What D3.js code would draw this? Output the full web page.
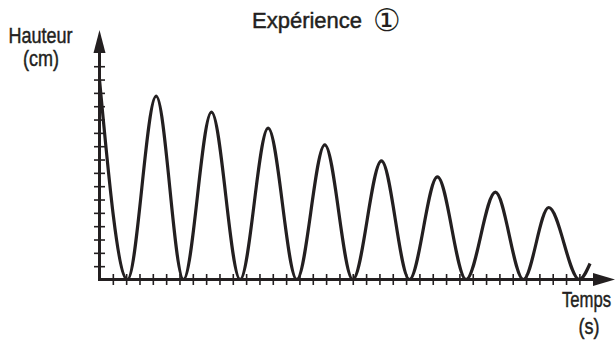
<!DOCTYPE html>
<html>
<head>
<meta charset="utf-8">
<script src="https://cdn.jsdelivr.net/npm/d3@7/dist/d3.min.js"></script>
<style>
  html, body { margin: 0; padding: 0; background: #fff; }
  svg { display: block; }
  text { font-family: "Liberation Sans", Arial, sans-serif; fill: #231f20; stroke: #231f20; stroke-width: 0.45px; }
  tspan.mark { stroke: none; }
</style>
</head>
<body>
<svg id="chart" width="616" height="341"></svg>
<script>
// ---- data ----
const title = "Expérience";
const titleMark = "①";
const yLabel = ["Hauteur", "(cm)"];
const xLabel = ["Temps", "(s)"];
// time of each turning point (tick units)
const times   = [0, 2.1, 4.25, 6.3, 8.4, 10.55, 12.65, 14.8, 16.9, 19.0, 21.15, 23.25, 25.35, 27.5, 29.7, 31.8, 33.7, 36.0, 36.8];
// height at each turning point (tick units)
const heights = [15.0, 0, 13.75, 0, 12.55, 0, 11.35, 0, 10.1, 0, 8.9, 0, 7.7, 0, 6.55, 0, 5.4, 0, 1.2];
const xTicks = d3.range(1, 37);   // 36 minor ticks on time axis
const yTicks = d3.range(1, 17);   // 16 minor ticks on height axis

// ---- layout ----
const svg = d3.select("#chart");
const ink = "#231f20";
const x0 = 99.5, y0 = 279.5, step = 13.33;
const x = d3.scaleLinear().domain([0, 38.5]).range([x0, x0 + 38.5 * step]);
const y = d3.scaleLinear().domain([0, 16]).range([y0, y0 - 16 * step]);

// axes with ticks on both sides
const gx = svg.append("g").attr("transform", `translate(0,${y0})`)
  .call(d3.axisBottom(x).tickValues(xTicks).tickSize(5).tickFormat(""));
gx.select(".domain").remove();
gx.selectAll(".tick line").attr("y1", -5.5).attr("y2", 5.5)
  .attr("stroke", ink).attr("stroke-width", 1.6);

const gy = svg.append("g").attr("transform", `translate(${x0},0)`)
  .call(d3.axisLeft(y).tickValues(yTicks).tickSize(5).tickFormat(""));
gy.select(".domain").remove();
gy.selectAll(".tick line").attr("x1", 5.5).attr("x2", -5.5)
  .attr("stroke", ink).attr("stroke-width", 1.6);

// axis lines with arrows
svg.append("line").attr("x1", x0).attr("x2", 596).attr("y1", y0).attr("y2", y0)
  .attr("stroke", ink).attr("stroke-width", 3);
svg.append("path").attr("d", `M615,${y0} L593,${y0 - 6.5} L593,${y0 + 6.5} Z`).attr("fill", ink);
svg.append("line").attr("x1", x0).attr("x2", x0).attr("y1", y0 + 1.5).attr("y2", 50)
  .attr("stroke", ink).attr("stroke-width", 3);
svg.append("path").attr("d", `M${x0},30 L${x0 - 6},53 L${x0 + 6},53 Z`).attr("fill", ink);

// the curve
const pts = times.map((t, i) => [t, heights[i]]);
const line = d3.line().x(d => x(d[0])).y(d => y(d[1])).curve(d3.curveMonotoneX);
svg.append("path").datum(pts).attr("d", line)
  .attr("fill", "none").attr("stroke", ink).attr("stroke-width", 3.2)
  .attr("stroke-linejoin", "round").attr("stroke-linecap", "butt");

// texts
const t = svg.append("text").attr("x", 252).attr("y", 28).style("font-size", "22px");
t.append("tspan").text(title);
t.append("tspan").attr("class", "mark").attr("x", 373).attr("y", 30.5)
  .style("font-family", "'DejaVu Sans', sans-serif").style("font-size", "31px").text(titleMark);

function label(str, cx, by, sx) {
  svg.append("text").attr("text-anchor", "middle")
    .attr("transform", `translate(${cx},${by}) scale(${sx},1)`)
    .style("font-size", "22px").text(str);
}
label(yLabel[0], 40.5, 43, 0.82);
label(yLabel[1], 41, 66, 0.82);
label(xLabel[0], 586.5, 307, 0.76);
label(xLabel[1], 589, 334, 0.82);
</script>
</body>
</html>
